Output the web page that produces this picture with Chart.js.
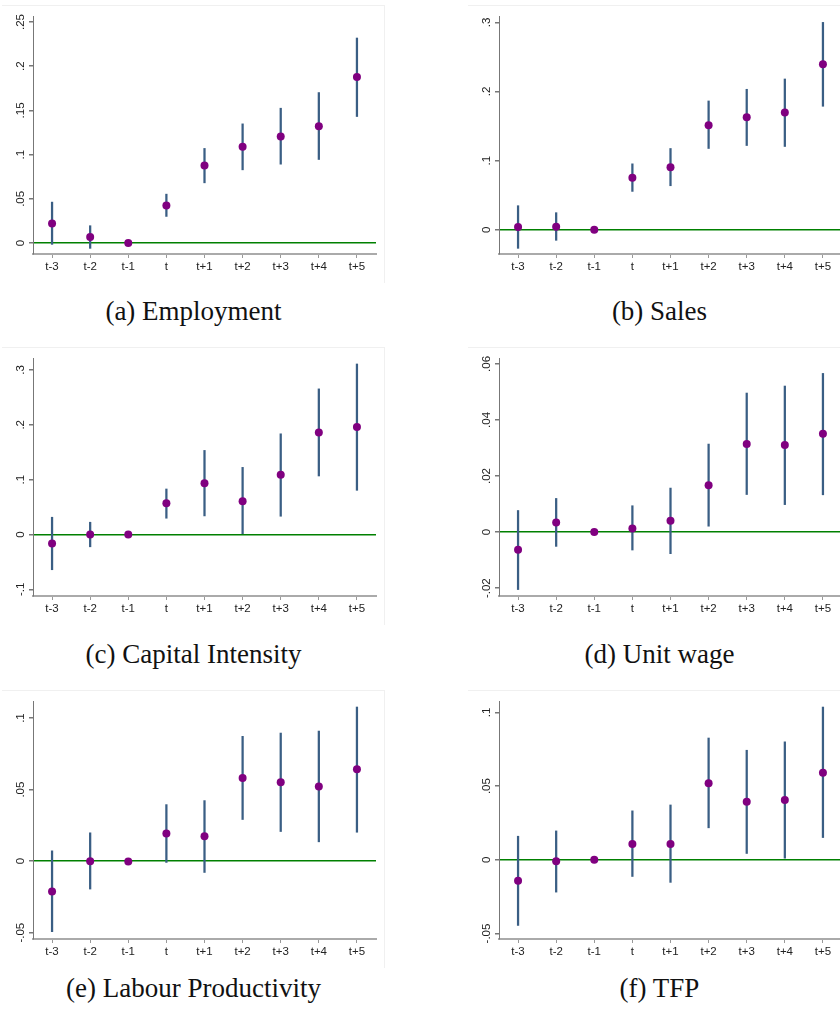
<!DOCTYPE html>
<html>
<head>
<meta charset="utf-8">
<script src="https://cdn.jsdelivr.net/npm/chart.js@4"></script>
<style>
  html, body { margin: 0; padding: 0; background: #fff; }
  body { width: 840px; height: 1014px; overflow: hidden; position: relative; }
  .panel { position: absolute; width: 383px; height: 278px; border-top: 1px solid #f0f0f0; border-right: 1px solid #f0f0f0; box-sizing: border-box; }
  .panel canvas { position: absolute; left: 0; top: 0; }
  .cap { position: absolute; width: 383px; text-align: center; font-family: "Liberation Serif", "Times New Roman", serif; font-size: 27px; color: #111; line-height: 30px; }
</style>
</head>
<body>
<div class="panel" style="left:2px;top:5px"><canvas id="cA" width="383" height="278"></canvas></div>
<div class="panel" style="left:468px;top:5px"><canvas id="cB" width="383" height="278"></canvas></div>
<div class="panel" style="left:2px;top:347px"><canvas id="cC" width="383" height="278"></canvas></div>
<div class="panel" style="left:468px;top:347px"><canvas id="cD" width="383" height="278"></canvas></div>
<div class="panel" style="left:2px;top:690px"><canvas id="cE" width="383" height="278"></canvas></div>
<div class="panel" style="left:468px;top:690px"><canvas id="cF" width="383" height="278"></canvas></div>

<div class="cap" style="left:2px;top:296px">(a) Employment</div>
<div class="cap" style="left:468px;top:296px">(b) Sales</div>
<div class="cap" style="left:2px;top:639px">(c) Capital Intensity</div>
<div class="cap" style="left:468px;top:639px">(d) Unit wage</div>
<div class="cap" style="left:2px;top:973px">(e) Labour Productivity</div>
<div class="cap" style="left:468px;top:973px">(f) TFP</div>

<script>
const periods = ["t-3", "t-2", "t-1", "t", "t+1", "t+2", "t+3", "t+4", "t+5"];

// (a) Employment
const empEst = [0.0222, 0.0068, 0, 0.0425, 0.0877, 0.1088, 0.1205, 0.1322, 0.1879];
const empLo  = [-0.0015, -0.006, null, 0.0301, 0.0681, 0.0828, 0.0892, 0.0945, 0.1431];
const empHi  = [0.0463, 0.0196, null, 0.0553, 0.107, 0.1348, 0.1525, 0.1702, 0.2319];
const empTicks = [0, 0.05, 0.1, 0.15, 0.2, 0.25];

// (b) Sales
const salesEst = [0.0039, 0.0043, 0, 0.0751, 0.0905, 0.1512, 0.1627, 0.1695, 0.2393];
const salesLo  = [-0.027, -0.0154, null, 0.0554, 0.0636, 0.1175, 0.1218, 0.1204, 0.1786];
const salesHi  = [0.0347, 0.0246, null, 0.0953, 0.1175, 0.1863, 0.2032, 0.2181, 0.30];
const salesTicks = [0, 0.1, 0.2, 0.3];

// (c) Capital Intensity
const capEst = [-0.0164, 0, 0, 0.057, 0.0933, 0.0606, 0.1091, 0.1861, 0.1958];
const capLo  = [-0.0642, -0.0224, null, 0.0297, 0.0339, 0, 0.0333, 0.1067, 0.0806];
const capHi  = [0.0315, 0.0224, null, 0.083, 0.1533, 0.1224, 0.1836, 0.2655, 0.3109];
const capTicks = [-0.1, 0, 0.1, 0.2, 0.3];

// (d) Unit wage
const wageEst = [-0.0063, 0.0034, 0, 0.0013, 0.004, 0.0167, 0.0314, 0.0311, 0.0351];
const wageLo  = [-0.0205, -0.0051, null, -0.0064, -0.0077, 0.0021, 0.0134, 0.0098, 0.0133];
const wageHi  = [0.0077, 0.012, null, 0.0094, 0.0157, 0.0314, 0.0496, 0.0521, 0.0566];
const wageTicks = [-0.02, 0, 0.02, 0.04, 0.06];

// (e) Labour Productivity
const lpEst = [-0.0212, 0, -0.0002, 0.0193, 0.0174, 0.0581, 0.0551, 0.0521, 0.0642];
const lpLo  = [-0.0493, -0.0195, null, -0.0009, -0.0079, 0.0291, 0.0207, 0.0135, 0.0202];
const lpHi  = [0.0072, 0.0198, null, 0.0395, 0.0423, 0.0872, 0.0895, 0.0909, 0.1077];
const lpTicks = [-0.05, 0, 0.05, 0.1];

// (f) TFP
const tfpEst = [-0.0142, -0.0009, 0, 0.0108, 0.0108, 0.0519, 0.0393, 0.0406, 0.0591];
const tfpLo  = [-0.0445, -0.0219, null, -0.0113, -0.0153, 0.0217, 0.0043, 0.0011, 0.0151];
const tfpHi  = [0.016, 0.0196, null, 0.0332, 0.0372, 0.0826, 0.0743, 0.080, 0.1036];
const tfpTicks = [-0.05, 0, 0.05, 0.1];

const tickFont = { family: "'Liberation Sans', Arial, sans-serif", size: 11.5 };
const tickColor = "#222";

// stata style labels: .25, -.1, 0
function fmt(v) {
  return String(v).replace(/^(-?)0\./, "$1.");
}

// rotated y labels sit ~12px left of the axis, centred on the tick
function labelPad(ticks) {
  const c = document.createElement("canvas").getContext("2d");
  c.font = tickFont.size + "px " + tickFont.family;
  let w = 0;
  ticks.forEach(t => { w = Math.max(w, c.measureText(fmt(t)).width); });
  return 8 - w / 2;
}

function makePanel(id, est, lo, hi, ticks, yMin, yMax) {
  const ci = periods.map((_, i) => lo[i] == null ? null : [lo[i], hi[i]]);
  new Chart(document.getElementById(id), {
    type: "bar",
    data: {
      labels: periods,
      datasets: [
        {
          type: "line",
          data: est,
          showLine: false,
          pointRadius: 4,
          pointHoverRadius: 4,
          pointBackgroundColor: "#800080",
          pointBorderWidth: 0,
          order: 0
        },
        {
          type: "bar",
          data: ci,
          barThickness: 1.6,
          backgroundColor: "#3a5e84",
          borderWidth: 0,
          order: 1
        }
      ]
    },
    options: {
      responsive: false,
      devicePixelRatio: 1,
      animation: false,
      layout: { padding: { top: 10, right: 9, left: 0, bottom: 0 } },
      plugins: { legend: { display: false }, tooltip: { enabled: false } },
      scales: {
        x: {
          offset: true,
          afterFit: s => { s.height = 30; },
          border: { color: "#aaa", width: 2 },
          grid: { offset: false, drawOnChartArea: false, tickLength: 4, tickColor: "#999" },
          ticks: { padding: 2, font: tickFont, color: tickColor, maxRotation: 0, autoSkip: false }
        },
        y: {
          min: yMin,
          max: yMax,
          afterBuildTicks: s => { s.ticks = ticks.map(v => ({ value: v })); },
          afterFit: s => { s.width = 31; },
          border: { color: "#777", width: 1 },
          grid: {
            color: c => (c.tick && c.tick.value === 0) ? "#008000" : "rgba(0,0,0,0)",
            lineWidth: 1.5,
            tickColor: "#777",
            tickLength: 4
          },
          ticks: {
            minRotation: 90,
            maxRotation: 90,
            crossAlign: "center",
            padding: labelPad(ticks),
            font: tickFont,
            color: tickColor,
            callback: v => fmt(v)
          }
        }
      }
    }
  });
}

makePanel("cA", empEst, empLo, empHi, empTicks, -0.0124, 0.2568);
makePanel("cB", salesEst, salesLo, salesHi, salesTicks, -0.0352, 0.3091);
makePanel("cC", capEst, capLo, capHi, capTicks, -0.1121, 0.3218);
makePanel("cD", wageEst, wageLo, wageHi, wageTicks, -0.0228, 0.0621);
makePanel("cE", lpEst, lpLo, lpHi, lpTicks, -0.0544, 0.1119);
makePanel("cF", tfpEst, tfpLo, tfpHi, tfpTicks, -0.0537, 0.1077);
</script>
</body>
</html>
